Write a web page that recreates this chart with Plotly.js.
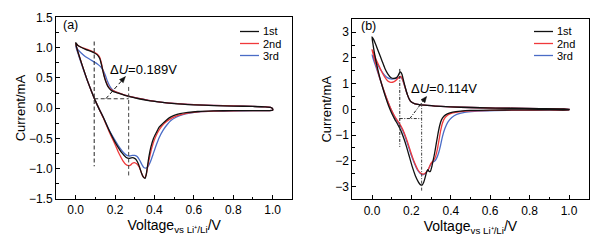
<!DOCTYPE html>
<html>
<head>
<meta charset="utf-8">
<script src="https://cdn.plot.ly/plotly-3.0.1.min.js"></script>
<style>html,body{margin:0;padding:0;background:#fff;}#chart{width:603px;height:244px;}</style>
</head>
<body>
<div id="chart"></div>
<script>
// ---------- data ----------
const seriesNames = ["1st", "2nd", "3rd"];

// Panel (a)
const a1_x = [0.000,0.010,0.025,0.050,0.075,0.095,0.110,0.122,0.130,0.137,0.145,0.155,0.165,0.178,0.195,0.220,0.250,0.280,0.320,0.370,0.430,0.500,0.600,0.700,0.800,0.900,0.960,0.990,1.000,
  1.000,0.980,0.900,0.800,0.700,0.620,0.570,0.530,0.500,0.475,0.460,0.440,0.425,0.410,0.395,0.382,0.372,0.365,0.358,0.352,0.344,0.334,0.324,0.314,0.304,0.294,0.282,0.270,0.255,0.235,0.200,0.170,0.140,0.120,0.100,0.080,0.060,0.040,0.020,0.005,0.000];
const a1_y = [1.08,1.04,1.01,0.97,0.94,0.91,0.88,0.82,0.73,0.63,0.52,0.42,0.35,0.30,0.27,0.245,0.21,0.185,0.155,0.125,0.10,0.075,0.055,0.043,0.035,0.028,0.022,0.012,-0.01,
  -0.035,-0.04,-0.04,-0.042,-0.045,-0.055,-0.07,-0.09,-0.12,-0.16,-0.20,-0.26,-0.31,-0.40,-0.50,-0.64,-0.80,-0.95,-1.10,-1.16,-1.14,-1.07,-0.97,-0.89,-0.84,-0.82,-0.82,-0.83,-0.81,-0.74,-0.56,-0.37,-0.15,-0.02,0.12,0.28,0.45,0.64,0.84,1.00,1.08];

const a2_x = [0.000,0.010,0.025,0.050,0.075,0.095,0.110,0.122,0.130,0.137,0.145,0.155,0.165,0.178,0.195,0.220,0.250,0.280,0.320,0.370,0.430,0.500,0.600,0.700,0.800,0.900,0.960,0.990,1.000,
  1.000,0.980,0.900,0.800,0.700,0.620,0.560,0.520,0.490,0.465,0.448,0.430,0.415,0.400,0.387,0.376,0.366,0.358,0.350,0.342,0.332,0.322,0.310,0.298,0.288,0.278,0.268,0.255,0.240,0.220,0.200,0.170,0.140,0.120,0.100,0.080,0.060,0.040,0.020,0.005,0.000];
const a2_y = [1.07,1.04,1.01,0.98,0.95,0.92,0.89,0.84,0.75,0.64,0.53,0.43,0.36,0.31,0.28,0.25,0.215,0.19,0.16,0.13,0.10,0.078,0.057,0.045,0.036,0.029,0.022,0.012,-0.01,
  -0.035,-0.04,-0.04,-0.043,-0.048,-0.06,-0.085,-0.12,-0.16,-0.21,-0.26,-0.33,-0.41,-0.52,-0.65,-0.80,-0.96,-1.10,-1.15,-1.13,-1.05,-0.97,-0.92,-0.90,-0.91,-0.94,-0.95,-0.93,-0.87,-0.75,-0.60,-0.39,-0.16,-0.02,0.12,0.28,0.45,0.64,0.84,1.00,1.07];

const a3_x = [0.000,0.010,0.025,0.050,0.075,0.095,0.110,0.125,0.140,0.152,0.162,0.172,0.185,0.200,0.220,0.250,0.280,0.320,0.370,0.430,0.500,0.600,0.700,0.800,0.900,0.960,0.990,1.000,
  1.000,0.980,0.900,0.800,0.700,0.630,0.580,0.540,0.510,0.485,0.465,0.445,0.425,0.408,0.393,0.380,0.368,0.357,0.346,0.336,0.325,0.312,0.300,0.288,0.275,0.260,0.245,0.225,0.200,0.170,0.140,0.120,0.100,0.080,0.060,0.040,0.020,0.005,0.000];
const a3_y = [1.03,0.97,0.92,0.85,0.80,0.76,0.73,0.69,0.62,0.53,0.44,0.37,0.31,0.275,0.25,0.215,0.19,0.16,0.13,0.10,0.078,0.057,0.045,0.036,0.029,0.022,0.012,-0.01,
  -0.035,-0.04,-0.042,-0.045,-0.05,-0.06,-0.08,-0.11,-0.15,-0.20,-0.27,-0.36,-0.48,-0.62,-0.76,-0.88,-0.96,-0.99,-0.98,-0.93,-0.86,-0.80,-0.78,-0.78,-0.79,-0.78,-0.74,-0.66,-0.53,-0.36,-0.15,-0.02,0.12,0.28,0.45,0.63,0.82,0.97,1.03];

// Panel (b)
const b1_x = [0.000,0.008,0.020,0.035,0.050,0.065,0.080,0.095,0.110,0.122,0.132,0.140,0.146,0.152,0.160,0.170,0.180,0.190,0.200,0.215,0.240,0.280,0.350,0.450,0.550,0.700,0.850,0.970,1.000,
  1.000,0.900,0.750,0.600,0.500,0.450,0.410,0.385,0.365,0.352,0.343,0.335,0.327,0.318,0.310,0.303,0.296,0.290,0.284,0.278,0.270,0.262,0.254,0.245,0.235,0.220,0.205,0.190,0.175,0.160,0.145,0.130,0.115,0.100,0.085,0.070,0.055,0.040,0.025,0.012,0.004,0.000];
const b1_y = [2.82,2.72,2.50,2.20,1.90,1.60,1.38,1.24,1.20,1.22,1.30,1.42,1.45,1.36,1.12,0.82,0.56,0.38,0.28,0.22,0.18,0.15,0.11,0.08,0.06,0.04,0.03,0.02,0.00,
  -0.02,-0.02,-0.025,-0.03,-0.045,-0.07,-0.11,-0.17,-0.27,-0.42,-0.65,-0.95,-1.30,-1.70,-2.00,-2.25,-2.42,-2.42,-2.35,-2.42,-2.65,-2.85,-2.95,-2.93,-2.82,-2.58,-2.25,-1.85,-1.45,-1.10,-0.80,-0.58,-0.38,-0.15,0.12,0.45,0.82,1.22,1.70,2.20,2.58,2.82];

const b2_x = [0.000,0.008,0.020,0.035,0.050,0.065,0.080,0.095,0.110,0.125,0.137,0.145,0.152,0.160,0.170,0.180,0.190,0.200,0.215,0.240,0.280,0.350,0.450,0.550,0.700,0.850,0.970,1.000,
  1.000,0.900,0.750,0.600,0.500,0.450,0.410,0.385,0.368,0.357,0.348,0.340,0.332,0.322,0.312,0.305,0.298,0.288,0.275,0.262,0.250,0.235,0.220,0.205,0.190,0.175,0.160,0.145,0.130,0.115,0.100,0.085,0.070,0.055,0.040,0.025,0.012,0.004,0.000];
const b2_y = [2.32,2.20,1.95,1.70,1.45,1.25,1.10,1.05,1.07,1.15,1.25,1.28,1.22,1.05,0.80,0.56,0.38,0.28,0.22,0.18,0.15,0.11,0.08,0.06,0.04,0.03,0.02,0.00,
  -0.02,-0.025,-0.03,-0.04,-0.06,-0.09,-0.14,-0.22,-0.35,-0.55,-0.85,-1.20,-1.55,-1.85,-2.00,-2.05,-2.12,-2.30,-2.45,-2.52,-2.50,-2.38,-2.15,-1.85,-1.50,-1.15,-0.85,-0.62,-0.45,-0.27,-0.05,0.22,0.52,0.85,1.20,1.60,1.95,2.20,2.32];

const b3_x = [0.000,0.008,0.020,0.035,0.050,0.065,0.080,0.095,0.110,0.125,0.137,0.145,0.152,0.160,0.170,0.180,0.190,0.200,0.215,0.240,0.280,0.350,0.450,0.550,0.700,0.850,0.970,1.000,
  1.000,0.900,0.750,0.620,0.520,0.470,0.430,0.405,0.385,0.370,0.358,0.348,0.338,0.327,0.317,0.308,0.298,0.285,0.270,0.258,0.245,0.230,0.215,0.200,0.185,0.170,0.155,0.140,0.125,0.110,0.095,0.080,0.065,0.050,0.035,0.020,0.008,0.000];
const b3_y = [2.12,2.02,1.85,1.65,1.47,1.32,1.22,1.18,1.18,1.20,1.24,1.25,1.20,1.04,0.80,0.56,0.38,0.28,0.22,0.18,0.15,0.11,0.08,0.06,0.04,0.03,0.02,0.00,
  -0.02,-0.025,-0.035,-0.05,-0.08,-0.12,-0.20,-0.32,-0.50,-0.75,-1.05,-1.40,-1.70,-1.92,-2.02,-2.05,-2.15,-2.35,-2.50,-2.55,-2.50,-2.35,-2.10,-1.80,-1.45,-1.10,-0.80,-0.60,-0.42,-0.22,0.02,0.30,0.62,0.95,1.30,1.65,1.92,2.12];

// Guide lines (voltages of the two peaks, level of the ΔU bracket)
const guideA_v = [0.094, 0.269];
const guideA_yspan = [[1.10, -0.96], [0.35, -1.14]];
const guideA_level = 0.155;
const guideA_arrow = [[0.153, 0.155], [0.252, 0.52]];
const deltaA = "0.189";

const guideB_v = [0.141, 0.252];
const guideB_yspan = [[1.57, -1.46], [0.22, -3.2]];
const guideB_level = -0.36;
const guideB_arrow = [[0.192, -0.36], [0.277, 0.50]];
const deltaB = "0.114";

// ---------- styling ----------
const colors = ["#111111", "#f0393b", "#4a6cc6"];
const FONT = 'Arial, "Liberation Sans", sans-serif';
const W = 603, H = 244;
const px = v => v / W;
const py = v => 1 - v / H;

const traces = [];
const setsA = [[a1_x, a1_y], [a2_x, a2_y], [a3_x, a3_y]];
const setsB = [[b1_x, b1_y], [b2_x, b2_y], [b3_x, b3_y]];
[2, 1, 0].forEach(i => {
  traces.push({x: setsA[i][0], y: setsA[i][1], xaxis: 'x', yaxis: 'y', mode: 'lines', name: seriesNames[i],
    line: {color: colors[i], width: 1.3, shape: 'spline', smoothing: 0.6}, showlegend: false, hoverinfo: 'skip'});
  traces.push({x: setsB[i][0], y: setsB[i][1], xaxis: 'x2', yaxis: 'y2', mode: 'lines', name: seriesNames[i],
    line: {color: colors[i], width: 1.3, shape: 'spline', smoothing: 0.6}, showlegend: false, hoverinfo: 'skip'});
});

function axisX(domain, anchor) {
  return {domain: domain, anchor: anchor, range: [-0.1, 1.1], tick0: 0, dtick: 0.2, tickformat: '.1f',
    ticks: 'inside', ticklen: 4, tickwidth: 1, tickcolor: '#000',
    minor: {ticks: 'inside', ticklen: 2.5, dtick: 0.1, tick0: 0, tickcolor: '#000', showgrid: false},
    showline: true, mirror: true, linecolor: '#000', linewidth: 1, showgrid: false, zeroline: false,
    tickfont: {family: FONT, size: 12, color: '#000'},
    title: {text: 'Voltage<sub>vs Li⁺/Li</sub>/V', font: {family: FONT, size: 14, color: '#000'}, standoff: 2}};
}
function axisY(domain, anchor, range, dtick, mdtick, fmt) {
  return {domain: domain, anchor: anchor, range: range, tick0: 0, dtick: dtick, tickformat: fmt,
    ticks: 'inside', ticklen: 4, tickwidth: 1, tickcolor: '#000',
    minor: {ticks: 'inside', ticklen: 2.5, dtick: mdtick, tick0: 0, tickcolor: '#000', showgrid: false},
    showline: true, mirror: true, linecolor: '#000', linewidth: 1, showgrid: false, zeroline: false,
    tickfont: {family: FONT, size: 12, color: '#000'},
    title: {text: 'Current/mA', font: {family: FONT, size: 13, color: '#000'}, standoff: 0}};
}

const shapes = [];
const annotations = [];

function guides(xr, yr, v, span, level, arrow, dash, delta, labelPos, tagText, tagPos, legendX, headPath) {
  v.forEach((xv, k) => shapes.push({type: 'line', xref: xr, yref: yr, x0: xv, x1: xv, y0: span[k][0], y1: span[k][1],
    line: {color: k === 0 ? '#222' : '#444', width: 1, dash: dash}}));
  shapes.push({type: 'line', xref: xr, yref: yr, x0: v[0], x1: v[1], y0: level, y1: level,
    line: {color: '#333', width: 1, dash: dash}});
  shapes.push({type: 'line', xref: xr, yref: yr, x0: arrow[0][0], y0: arrow[0][1], x1: arrow[1][0], y1: arrow[1][1],
    line: {color: '#111', width: 1, dash: dash}});
  // arrow head (pixel-sized triangle anchored at the arrow tip)
  shapes.push({type: 'path', xref: xr, yref: yr, xsizemode: 'pixel', ysizemode: 'pixel',
    xanchor: arrow[1][0], yanchor: arrow[1][1], path: headPath,
    fillcolor: '#111', line: {color: '#111', width: 0.5}});
  annotations.push({xref: xr, yref: yr, x: labelPos[0], y: labelPos[1], xanchor: 'left', yanchor: 'middle',
    text: 'Δ<i>U</i>=' + delta + 'V', showarrow: false, font: {family: FONT, size: 13, color: '#000'}});
  annotations.push({xref: 'paper', yref: 'paper', x: px(tagPos[0]), y: py(tagPos[1]), xanchor: 'left', yanchor: 'middle',
    text: tagText, showarrow: false, font: {family: FONT, size: 12.5, color: '#000'}});
  // legend
  const rows = [31.5, 43.5, 55.5];
  seriesNames.forEach((nm, i) => {
    shapes.push({type: 'line', xref: 'paper', yref: 'paper', x0: px(legendX), x1: px(legendX + 19),
      y0: py(rows[i]), y1: py(rows[i]), line: {color: colors[i], width: 1.3}});
    annotations.push({xref: 'paper', yref: 'paper', x: px(legendX + 22), y: py(rows[i]), xanchor: 'left', yanchor: 'middle',
      text: nm, showarrow: false, borderpad: 0, font: {family: FONT, size: 11, color: '#000'}});
  });
}

guides('x', 'y', guideA_v, guideA_yspan, guideA_level, guideA_arrow, '4px,2.5px', deltaA, [0.165, 0.63], '(a)', [61, 25], 240,
  'M0,0 L-5.8,-2.85 L-2.1,-6.15 Z');
guides('x2', 'y2', guideB_v, guideB_yspan, guideB_level, guideB_arrow, '3px,1.5px,1px,1.5px', deltaB, [0.19, 0.81], '(b)', [359, 26.5], 534,
  'M0,0 L-5.6,-3.3 L-1.6,-6.3 Z');

const layout = {
  width: W, height: H, margin: {l: 0, r: 0, t: 0, b: 0},
  paper_bgcolor: '#fff', plot_bgcolor: '#fff', showlegend: false,
  xaxis: axisX([px(56), px(292.3)], 'y'),
  yaxis: axisY([py(199), py(17.3)], 'x', [-1.5, 1.5], 0.5, 0.25, '.1f'),
  xaxis2: axisX([px(352.3), px(588.7)], 'y2'),
  yaxis2: axisY([py(199.3), py(19.3)], 'x2', [-3.5, 3.5], 1, 0.5, 'd'),
  shapes: shapes, annotations: annotations
};

Plotly.newPlot('chart', traces, layout, {staticPlot: true, displayModeBar: false});
</script>
</body>
</html>
